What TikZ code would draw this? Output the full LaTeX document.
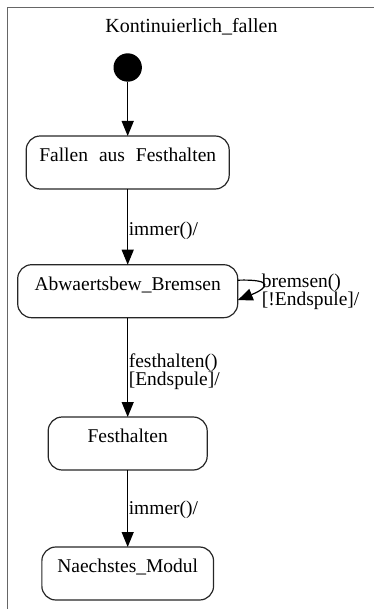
\documentclass[tikz,border=0pt]{standalone}
\usepackage{fontspec}
\setmainfont{Liberation Serif}
\usetikzlibrary{arrows.meta}
\begin{document}
\begin{tikzpicture}[x=1pt,y=-1pt,
  statebox/.style={draw=black!85, line width=1.2pt, rounded corners=14pt,
    inner xsep=0pt, inner ysep=0pt, outer sep=0pt, anchor=north,
    text height=25.5pt, text depth=27.5pt, font=\rmfamily\fontsize{19.5}{18}\selectfont},
  initstate/.style={circle, fill=black, draw=none, minimum size=28.4pt, inner sep=0pt, outer sep=0pt},
  trans/.style={line width=1.2pt, -{Triangle[length=15pt,width=12pt]}},
  translabel/.style={inner sep=0pt, anchor=base west, align=left, font=\rmfamily\fontsize{19.5}{18}\selectfont},
  frameline/.style={draw=black!60, line width=1.6pt}
]
\useasboundingbox (0,0) rectangle (373,609);
% frame
\draw[frameline] (7.5,612) -- (7.5,7.5) -- (376,7.5);
% title
\node[inner sep=0pt, anchor=base, font=\rmfamily\fontsize{20}{18}\selectfont] (title) at (191.5,33) {Kontinuierlich\_fallen};
% states
\node[initstate] (init) at (127.7,67.5) {};
\node[statebox, minimum width=203pt] (b1) at (127.7,136) {Fallen\hspace{11pt}aus\hspace{11pt}Festhalten};
\node[statebox, minimum width=220pt] (b2) at (127.7,264.7) {Abwaertsbew\_Bremsen};
\node[statebox, minimum width=159pt] (b3) at (127.7,417) {Festhalten};
\node[statebox, minimum width=171.7pt] (b4) at (127.7,547) {Naechstes\_Modul};
% transitions
\draw[trans] (init) -- (b1.north);
\draw[trans] (b1.south) -- node[translabel, pos=0.61, xshift=0.5pt] (l1) {immer()/} (b2.north);
\draw[trans] (b2.south) -- node[translabel, pos=0.68, xshift=0.5pt] (l2) {festhalten()\\{[}Endspule{]}/} (b3.north);
\draw[trans] (b3.south) -- node[translabel, pos=0.58, xshift=0.5pt] (l3) {immer()/} (b4.north);
% self loop
\coordinate (ls) at ([yshift=11pt]b2.east);
\coordinate (le) at ([yshift=-9pt]b2.east);
\draw[trans] (ls) .. controls (275,279) and (268,288) .. (le);
\node[translabel] (l4) at (261.7,305.3) {bremsen()\\{[}!Endspule{]}/};
\end{tikzpicture}
\end{document}
